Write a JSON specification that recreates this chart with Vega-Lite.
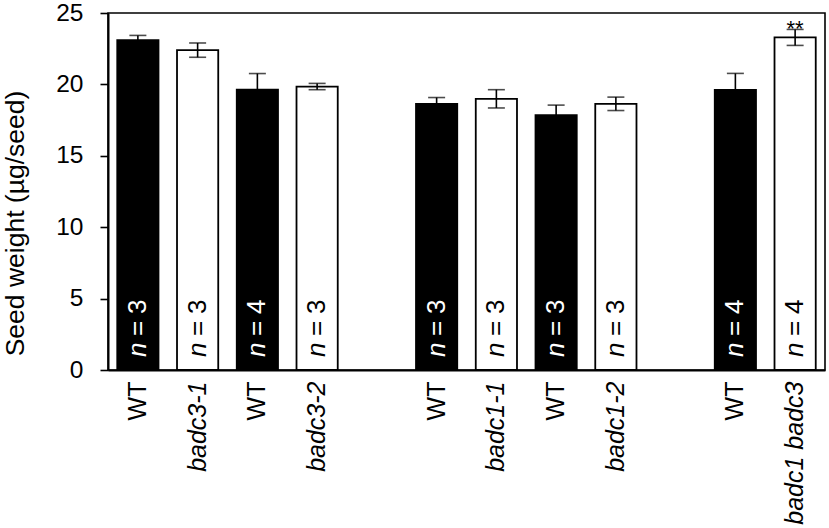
{
  "$schema": "https://vega.github.io/schema/vega-lite/v6.json",
  "autosize": "none",
  "width": 717,
  "height": 357,
  "padding": {"left": 108, "top": 13, "right": 4, "bottom": 158},
  "background": "white",
  "config": {
    "font": "Liberation Sans",
    "view": {"stroke": "black", "strokeWidth": 1.6},
    "axis": {"grid": false, "domainColor": "black", "labelColor": "black", "tickColor": "black", "titleColor": "black", "titleFontWeight": "normal"}
  },
  "data": {
    "values": [
      {"id": "0", "label": "WT", "type": "WT", "mean": 23.1, "se": 0.33, "n": 3},
      {"id": "1", "label": "badc3-1", "type": "mutant", "mean": 22.4, "se": 0.5, "n": 3},
      {"id": "2", "label": "WT", "type": "WT", "mean": 19.64, "se": 1.12, "n": 4},
      {"id": "3", "label": "badc3-2", "type": "mutant", "mean": 19.85, "se": 0.22, "n": 3},
      {"id": "5", "label": "WT", "type": "WT", "mean": 18.64, "se": 0.44, "n": 3},
      {"id": "6", "label": "badc1-1", "type": "mutant", "mean": 18.99, "se": 0.64, "n": 3},
      {"id": "7", "label": "WT", "type": "WT", "mean": 17.85, "se": 0.7, "n": 3},
      {"id": "8", "label": "badc1-2", "type": "mutant", "mean": 18.64, "se": 0.47, "n": 3},
      {"id": "10", "label": "WT", "type": "WT", "mean": 19.62, "se": 1.15, "n": 4},
      {"id": "11", "label": "badc1 badc3", "type": "mutant", "mean": 23.29, "se": 0.56, "n": 4, "sig": "**"}
    ]
  },
  "encoding": {
    "x": {
      "field": "id",
      "type": "nominal",
      "sort": null,
      "scale": {"domain": ["0","1","2","3","4","5","6","7","8","9","10","11"], "paddingInner": 0.31, "paddingOuter": 0.155},
      "axis": {
        "title": null,
        "labelExpr": "['WT','badc3-1','WT','badc3-2','','WT','badc1-1','WT','badc1-2','','WT','badc1 badc3'][toNumber(datum.value)]",
        "labelAngle": 270,
        "labelAlign": "right",
        "labelBaseline": "middle",
        "labelFontSize": 25,
        "labelPadding": 11,
        "labelFontStyle": {"condition": {"test": "indexof(['1','3','6','8','11'], datum.value) >= 0", "value": "italic"}, "value": "normal"},
        "ticks": false,
        "tickSize": 0,
        "domainWidth": 2
      }
    }
  },
  "layer": [
    {
      "mark": {"type": "bar", "stroke": "black", "strokeWidth": 1.8},
      "encoding": {
        "y": {
          "field": "mean",
          "type": "quantitative",
          "title": "Seed weight (µg/seed)",
          "scale": {"domain": [0, 25], "nice": false, "zero": true},
          "axis": {
            "title": "Seed weight (µg/seed)",
            "values": [0, 5, 10, 15, 20, 25],
            "labelFontSize": 24.5,
            "labelPadding": 17,
            "tickSize": 8,
            "tickWidth": 1.6,
            "domainWidth": 2,
            "titleFontSize": 26.5,
            "titleAngle": 270,
            "titleBaseline": "bottom",
            "titleAlign": "center",
            "titleX": -79,
            "titleY": 210
          }
        },
        "color": {"condition": {"test": "datum.type == 'WT'", "value": "black"}, "value": "white"}
      }
    },
    {
      "mark": {"type": "errorbar", "color": "black", "ticks": {"size": 17, "thickness": 1.6, "color": "black"}, "rule": {"strokeWidth": 1.6, "color": "black"}},
      "encoding": {
        "y": {"field": "mean", "type": "quantitative", "title": "Seed weight (µg/seed)", "scale": {"domain": [0, 25], "nice": false, "zero": true}},
        "yError": {"field": "se"}
      }
    },
    {
      "mark": {"type": "text", "text": "n", "fontStyle": "italic", "fontSize": 26, "angle": 270, "align": "left", "baseline": "middle", "dx": 13},
      "encoding": {
        "y": {"datum": 0, "type": "quantitative", "scale": {"domain": [0, 25], "nice": false, "zero": true}},
        "color": {"condition": {"test": "datum.type == 'WT'", "value": "white"}, "value": "black"}
      }
    },
    {
      "mark": {"type": "text", "text": "=", "fontSize": 26, "angle": 270, "align": "left", "baseline": "middle", "dx": 34},
      "encoding": {
        "y": {"datum": 0, "type": "quantitative", "scale": {"domain": [0, 25], "nice": false, "zero": true}},
        "color": {"condition": {"test": "datum.type == 'WT'", "value": "white"}, "value": "black"}
      }
    },
    {
      "mark": {"type": "text", "fontSize": 26, "angle": 270, "align": "left", "baseline": "middle", "dx": 56},
      "encoding": {
        "y": {"datum": 0, "type": "quantitative", "scale": {"domain": [0, 25], "nice": false, "zero": true}},
        "text": {"field": "n", "type": "quantitative"},
        "color": {"condition": {"test": "datum.type == 'WT'", "value": "white"}, "value": "black"}
      }
    },
    {
      "transform": [{"filter": "isValid(datum.sig)"}],
      "mark": {"type": "text", "fontSize": 22, "align": "center", "baseline": "alphabetic", "dy": -1.5, "color": "black"},
      "encoding": {
        "y": {"field": "mean", "type": "quantitative", "scale": {"domain": [0, 25], "nice": false, "zero": true}},
        "text": {"field": "sig"}
      }
    }
  ]
}
